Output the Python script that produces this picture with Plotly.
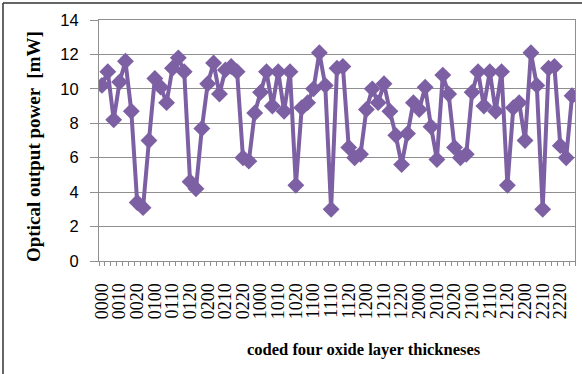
import plotly.graph_objects as go

# 81 coded designs (base-3 codes 0000 .. 2222)
codes = [f"{a}{b}{c}{d}" for a in "012" for b in "012" for c in "012" for d in "012"]

power_mw = [
    10.2, 11.0, 8.2, 10.4, 11.6, 8.7, 3.4, 3.1, 7.0,
    10.6, 10.1, 9.2, 11.2, 11.8, 11.0, 4.6, 4.2, 7.7,
    10.3, 11.5, 9.7, 11.1, 11.3, 11.0, 6.0, 5.8, 8.6,
    9.8, 11.0, 9.0, 11.0, 8.7, 11.0, 4.4, 8.9, 9.2,
    10.0, 12.1, 10.2, 3.0, 11.2, 11.3, 6.6, 6.0, 6.2,
    8.8, 10.0, 9.2, 10.3, 8.7, 7.3, 5.6, 7.4, 9.2,
    8.8, 10.1, 7.8, 5.9, 10.8, 9.7, 6.6, 6.0, 6.2,
    9.8, 11.0, 9.0, 11.0, 8.7, 11.0, 4.4, 8.9, 9.2,
    7.0, 12.1, 10.2, 3.0, 11.2, 11.3, 6.7, 6.0, 9.6,
]

label_step = 3
y_ticks = [0, 2, 4, 6, 8, 10, 12, 14]

x_idx = list(range(len(codes)))
tick_pos = x_idx[::label_step]
tick_txt = codes[::label_step]

GRID = "#8f8f8f"
PURPLE = "#7d60a3"

fig = go.Figure(
    go.Scatter(
        x=x_idx,
        y=power_mw,
        mode="lines+markers",
        line=dict(color=PURPLE, width=4),
        marker=dict(symbol="diamond", size=13, color=PURPLE),
        hoverinfo="skip",
    )
)

W, H = 582, 374
L, R, T, B = 99, 7, 20, 113

fig.update_layout(
    width=W,
    height=H,
    margin=dict(l=L, r=R, t=T, b=B),
    paper_bgcolor="white",
    plot_bgcolor="white",
    showlegend=False,
    xaxis=dict(
        range=[-0.5, len(codes) - 0.5],
        tickmode="array",
        tickvals=tick_pos,
        ticktext=tick_txt,
        tickangle=-90,
        ticks="",
        tickfont=dict(family="Liberation Serif", size=18, color="black"),
        ticklabelstandoff=14,
        showgrid=False,
        zeroline=False,
        showline=True,
        linecolor=GRID,
        linewidth=1,
        mirror=True,
        minor=dict(
            tickmode="array",
            tickvals=[i - 0.5 for i in range(len(codes) + 1)],
            ticks="outside",
            ticklen=4,
            tickcolor=GRID,
            showgrid=False,
        ),
    ),
    yaxis=dict(
        range=[0, 14],
        tickmode="array",
        tickvals=y_ticks,
        ticks="outside",
        ticklen=8,
        tickcolor=GRID,
        tickfont=dict(family="Liberation Sans", size=16.5, color="black"),
        ticklabelstandoff=8,
        showgrid=True,
        gridcolor=GRID,
        gridwidth=1,
        zeroline=False,
        showline=True,
        linecolor=GRID,
        linewidth=1,
        mirror=True,
    ),
)

pw = W - L - R
ph = H - T - B


def px_x(px):
    return (px - L) / pw


def px_y(py):
    return (H - B - py) / ph


fig.add_annotation(
    text="<b>Optical output power  [mW]</b>",
    x=px_x(33), y=px_y(147), xref="paper", yref="paper",
    textangle=-90, showarrow=False,
    font=dict(family="Liberation Serif", size=19, color="black"),
    xanchor="center", yanchor="middle",
)
fig.add_annotation(
    text="<b>coded four oxide layer thickneses</b>",
    x=px_x(364), y=px_y(349), xref="paper", yref="paper",
    showarrow=False,
    font=dict(family="Liberation Serif", size=16.5, color="black"),
    xanchor="center", yanchor="middle",
)

# outer chart border (top and left visible in the crop)
fig.add_shape(type="line", xref="paper", yref="paper",
              x0=px_x(3), x1=px_x(590), y0=px_y(3), y1=px_y(3),
              line=dict(color="#333333", width=1.5))
fig.add_shape(type="line", xref="paper", yref="paper",
              x0=px_x(3), x1=px_x(3), y0=px_y(3), y1=px_y(380),
              line=dict(color="#333333", width=1.5))

fig.write_html(
    "out.html",
    config={"displayModeBar": False, "staticPlot": True},
    post_script="document.body.style.margin='0';document.body.style.overflow='hidden';",
)
